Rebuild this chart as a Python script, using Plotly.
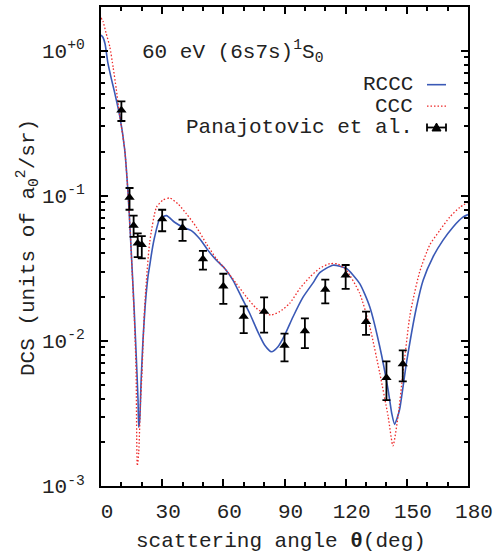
import plotly.graph_objects as go

# ---------------- data ----------------
rccc_theta = [0.0, 1.0, 2.0, 3.4, 5.0, 6.7, 9.2, 11.6, 13.24, 14.32, 15.3, 16.28, 17.26, 18.15, 18.5,
              19.0, 19.7, 20.6, 21.7, 23.05, 23.9, 25.0, 26.3, 28.8, 32.1, 36.1, 40.2, 44.3, 48.4,
              52.5, 56.6, 60.7, 64.7, 68.9, 72.9, 77.0, 80.3, 83.6, 86.8, 90.1, 94.2, 99.1, 104.0,
              107.3, 113.8, 120.4, 126.9, 131.8, 136.7, 140.8, 142.6, 144.0, 145.3, 146.5, 149.8,
              154.7, 158.0, 162.8, 167.7, 172.6, 177.5, 180.0]
rccc_dcs = [1.279, 1.230, 1.109, 0.818, 0.646, 0.513, 0.353, 0.209, 0.1054, 0.0566, 0.0306, 0.01629,
            0.00802, 0.00394, 0.00254, 0.00288, 0.00541, 0.01016, 0.01766, 0.0278, 0.0331, 0.0417,
            0.0519, 0.0692, 0.0729, 0.0656, 0.0607, 0.0575, 0.0505, 0.0420, 0.0359, 0.0315, 0.0262,
            0.0200, 0.01549, 0.01148, 0.00933, 0.00841, 0.00912, 0.01096, 0.01466, 0.0200, 0.0251,
            0.0295, 0.0332, 0.0315, 0.0248, 0.01718, 0.00914, 0.00461, 0.00316, 0.00266, 0.00295,
            0.00339, 0.00703, 0.01698, 0.0262, 0.0378, 0.0492, 0.0607, 0.0711, 0.0741]

ccc_theta = [0.0, 1.0, 2.5, 4.3, 6.0, 7.5, 9.2, 11.6, 13.24, 14.32, 15.3, 16.28, 17.2, 17.8, 18.5,
             19.3, 20.1, 21.4, 23.9, 27.2, 30.4, 33.7, 37.8, 41.9, 46.8, 51.7, 56.6, 61.5, 66.4,
             71.3, 76.2, 80.3, 83.6, 87.6, 92.5, 97.5, 102.4, 107.3, 112.2, 116.0, 120.4, 126.9,
             131.8, 136.7, 140.8, 143.2, 145.7, 148.1, 151.4, 153.0, 156.3, 161.2, 166.1, 171.0,
             176.0, 180.0]
ccc_dcs = [1.68, 1.585, 1.318, 1.064, 0.759, 0.541, 0.355, 0.209, 0.1054, 0.0562, 0.0295, 0.01514,
           0.00631, 0.00138, 0.0017, 0.00355, 0.00603, 0.01718, 0.0479, 0.0832, 0.0933, 0.0964,
           0.0877, 0.0750, 0.0607, 0.0467, 0.0368, 0.0306, 0.0248, 0.0201, 0.01675, 0.01549,
           0.01507, 0.01589, 0.01811, 0.0229, 0.0275, 0.0316, 0.0340, 0.0339, 0.0306, 0.0212,
           0.01253, 0.00601, 0.00303, 0.00189, 0.00303, 0.00601, 0.01466, 0.0191, 0.0299, 0.0457,
           0.0575, 0.0711, 0.0832, 0.0900]

exp_theta = [10, 14, 16, 18, 20, 30, 40, 50, 60, 70, 80, 90, 100, 110, 120, 130, 140, 148]
exp_dcs = [0.388, 0.097, 0.0623, 0.0471, 0.0459, 0.0692, 0.0601, 0.0366, 0.0238, 0.0147, 0.0159,
           0.0093, 0.0117, 0.0226, 0.0283, 0.01355, 0.00556, 0.00693]
exp_hi = [0.447, 0.113, 0.0729, 0.055, 0.0526, 0.080, 0.0685, 0.0417, 0.029, 0.0173, 0.0199,
          0.0112, 0.0143, 0.0264, 0.0333, 0.0159, 0.00722, 0.0086]
exp_lo = [0.327, 0.080, 0.052, 0.0377, 0.037, 0.0569, 0.0488, 0.031, 0.018, 0.0113, 0.0114,
          0.00722, 0.0089, 0.0181, 0.0228, 0.0110, 0.00391, 0.00525]

x_ticks = [0, 30, 60, 90, 120, 150, 180]
y_ticks = [1, 0.1, 0.01, 0.001]
y_ticktext = ["10<sup>+0</sup>", "10<sup>-1</sup>", "10<sup>-2</sup>", "10<sup>-3</sup>"]

legend_names = ["RCCC", "CCC", "Panajotovic et al."]
label_text = "60 eV (6s7s)<sup>1</sup>S<sub>0</sub>"

# ---------------- style ----------------
FONT = "Liberation Mono, Courier New, monospace"
TXT = "#222222"
BLUE = "#3a59b6"
RED = "#ee2a2a"
RED_DASH = "1.5px,2px"

fig = go.Figure()
fig.add_trace(go.Scatter(x=rccc_theta, y=rccc_dcs, mode="lines",
                         line=dict(color=BLUE, width=1.6, shape="spline", smoothing=0.6),
                         showlegend=False))
fig.add_trace(go.Scatter(x=ccc_theta, y=ccc_dcs, mode="lines",
                         line=dict(color=RED, width=1.3, dash=RED_DASH, shape="spline", smoothing=0.6),
                         showlegend=False))
fig.add_trace(go.Scatter(
    x=exp_theta, y=exp_dcs, mode="markers",
    marker=dict(symbol="triangle-up", size=9, color="black"),
    error_y=dict(type="data", symmetric=False,
                 array=[h - v for h, v in zip(exp_hi, exp_dcs)],
                 arrayminus=[v - l for l, v in zip(exp_lo, exp_dcs)],
                 color="black", thickness=1.8, width=4),
    showlegend=False))

W, H = 499, 556
L, R, T, B = 101, 31, 5, 70
pw, ph = W - L - R, H - T - B


def px(x):
    return (x - L) / pw


def py(y):
    return (H - B - y) / ph


fig.update_layout(
    width=W, height=H,
    margin=dict(l=L, r=R, t=T, b=B),
    paper_bgcolor="white", plot_bgcolor="white",
    font=dict(family=FONT, size=21, color=TXT),
    showlegend=False,
)
fig.update_xaxes(
    range=[0, 180], tickmode="array", tickvals=x_ticks,
    ticks="inside", ticklen=7, tickwidth=1.5, tickcolor="black",
    minor=dict(ticks="inside", ticklen=4, tickwidth=1.5, tickcolor="black", dtick=10),
    showline=True, linecolor="black", linewidth=2, mirror="allticks",
    showgrid=False, zeroline=False, ticklabelshift=6, ticklabelstandoff=5,
)
fig.update_yaxes(
    type="log", range=[-3, 0.3], tickmode="array", tickvals=y_ticks, ticktext=y_ticktext,
    ticks="inside", ticklen=7, tickwidth=1.5, tickcolor="black",
    minor=dict(ticks="inside", ticklen=4, tickwidth=1.5, tickcolor="black", dtick="D1"),
    showline=True, linecolor="black", linewidth=2, mirror="allticks",
    showgrid=False, zeroline=False, ticklabelstandoff=10,
)

ann = []
ann.append(dict(text="DCS (units of a<sub>0</sub><sup>2</sup>/sr)", textangle=-90,
                x=px(28), y=py(247), xref="paper", yref="paper",
                xanchor="center", yanchor="middle", showarrow=False))
ann.append(dict(text="scattering angle <b>θ</b>(deg)",
                x=px(281), y=py(542), xref="paper", yref="paper",
                xanchor="center", yanchor="middle", showarrow=False))
ann.append(dict(text=label_text, x=px(140), y=py(50), xref="paper", yref="paper",
                xanchor="left", yanchor="middle", showarrow=False))

leg_y = [83, 104.5, 126]
for name, yy in zip(legend_names, leg_y):
    ann.append(dict(text=name, x=px(415), y=py(yy), xref="paper", yref="paper",
                    xanchor="right", yanchor="middle", showarrow=False))
fig.update_layout(annotations=ann)

shapes = []
x0, x1 = px(427), px(446)
shapes.append(dict(type="line", xref="paper", yref="paper", x0=x0, x1=x1,
                   y0=py(leg_y[0]), y1=py(leg_y[0]), line=dict(color=BLUE, width=1.6)))
shapes.append(dict(type="line", xref="paper", yref="paper", x0=x0, x1=x1,
                   y0=py(leg_y[1]), y1=py(leg_y[1]), line=dict(color=RED, width=1.3, dash=RED_DASH)))
shapes.append(dict(type="line", xref="paper", yref="paper", x0=x0, x1=x1,
                   y0=py(leg_y[2]), y1=py(leg_y[2]), line=dict(color="black", width=1.8)))
for xe in (427, 446):
    shapes.append(dict(type="line", xref="paper", yref="paper", x0=px(xe), x1=px(xe),
                       y0=py(leg_y[2] - 4), y1=py(leg_y[2] + 4), line=dict(color="black", width=1.8)))
cx, cy = 436.5, leg_y[2]
tri = "M {} {} L {} {} L {} {} Z".format(px(cx - 4.5), py(cy + 3.5), px(cx + 4.5), py(cy + 3.5),
                                         px(cx), py(cy - 4.5))
shapes.append(dict(type="path", xref="paper", yref="paper", path=tri,
                   fillcolor="black", line=dict(color="black", width=1)))
fig.update_layout(shapes=shapes)

fig.write_html("out.html")
